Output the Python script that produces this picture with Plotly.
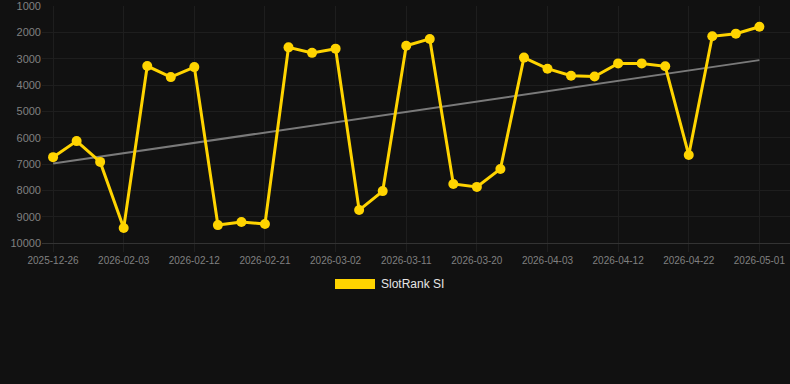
import numpy as np
import plotly.graph_objects as go

dates = ["2025-12-26", "2026-01-08", "2026-01-21", "2026-02-03", "2026-02-06", "2026-02-09",
         "2026-02-12", "2026-02-15", "2026-02-18", "2026-02-21", "2026-02-24", "2026-02-27",
         "2026-03-02", "2026-03-05", "2026-03-08", "2026-03-11", "2026-03-14", "2026-03-17",
         "2026-03-20", "2026-03-25", "2026-03-29", "2026-04-03", "2026-04-06", "2026-04-09",
         "2026-04-12", "2026-04-15", "2026-04-19", "2026-04-22", "2026-04-25", "2026-04-28",
         "2026-05-01"]
ranks = [6740, 6130, 6920, 9430, 3280, 3700, 3320, 9320, 9200, 9280, 2570, 2780,
         2620, 8750, 8030, 2510, 2250, 7760, 7870, 7190, 2960, 3380, 3650, 3680,
         3180, 3180, 3290, 6660, 2150, 2050, 1790]
series_name = "SlotRank SI"
y_ticks = [1000, 2000, 3000, 4000, 5000, 6000, 7000, 8000, 9000, 10000]

idx = np.arange(len(dates))
slope, intercept = np.polyfit(idx, ranks, 1)
trend = slope * idx + intercept

fig = go.Figure()
fig.add_trace(go.Scatter(x=idx, y=trend, mode="lines",
                         line=dict(color="#7a7a7a", width=2), showlegend=False,
                         hoverinfo="skip"))
fig.add_trace(go.Scatter(x=idx, y=ranks, mode="lines+markers", name=series_name,
                         line=dict(color="#ffd400", width=3),
                         marker=dict(color="#ffd400", size=10),
                         showlegend=False))

tick_idx = list(range(0, len(dates), 3))
fig.update_xaxes(range=[-0.47, 31.3], tickvals=tick_idx,
                 ticktext=[dates[i] for i in tick_idx],
                 showgrid=True, gridcolor="#1e1e1e", gridwidth=1,
                 zeroline=False, showline=True, linecolor="#333333", linewidth=1,
                 tickfont=dict(size=10, color="#808080"),
                 ticks="outside", ticklen=8, tickcolor="#1e1e1e")
fig.update_yaxes(range=[10000, 1000], tickvals=y_ticks,
                 ticktext=[str(v) for v in y_ticks],
                 showgrid=True, gridcolor="#1e1e1e", gridwidth=1,
                 zeroline=False, showline=False, ticklabeloverflow="allow",
                 tickfont=dict(size=11, color="#808080"), ticks="")

# legend
fig.add_shape(type="rect", xref="paper", yref="paper",
              x0=(335 - 42) / 748, x1=(375 - 42) / 748,
              y0=(243 - 289) / 237, y1=(243 - 279) / 237,
              fillcolor="#ffd400", line=dict(width=0))
fig.add_annotation(xref="paper", yref="paper", x=(379 - 42) / 748, y=(243 - 284) / 237,
                   text=series_name, showarrow=False, xanchor="left", yanchor="middle",
                   font=dict(size=12, color="#e6e6e6"))

fig.update_layout(width=790, height=384,
                  margin=dict(l=42, r=0, t=6, b=141),
                  paper_bgcolor="#111111", plot_bgcolor="#111111",
                  font=dict(family="Liberation Sans, Arial, sans-serif"),
                  showlegend=False)
fig.write_html("out.html")
